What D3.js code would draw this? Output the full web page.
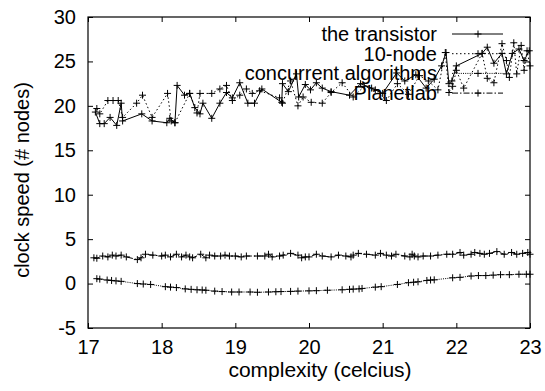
<!DOCTYPE html>
<html>
<head>
<meta charset="utf-8">
<script src="https://d3js.org/d3.v7.min.js"></script>
<style>
body {margin: 0; background: #fff;}
svg text {font-family: "Liberation Sans", Arial, sans-serif; font-size: 20px; fill: #000;}
</style>
</head>
<body>
<svg id="chart" width="545" height="391"></svg>
<script>
// series names, in legend order
var seriesNames = ["the transistor", "10-node", "concurrent algorithms", "Planetlab"];

// [x, y] points
var transistor = [[17.1,19.3],[17.16,18.0],[17.22,18.0],[17.3,18.7],[17.39,17.8],[17.45,20.3],[17.47,18.3],
  [17.73,19.1],[17.87,18.3],[18.07,18.1],[18.11,18.6],[18.18,18.1],[18.21,22.3],[18.31,21.2],[18.38,21.4],
  [18.45,19.8],[18.52,19.1],[18.56,20.3],[18.68,18.6],[18.79,20.3],[18.88,21.5],[18.96,20.9],[19.06,22.6],
  [19.17,20.3],[19.26,20.3],[19.36,21.9],[19.63,20.4],[19.64,22.5],[19.72,21.6],[19.83,23.6],[19.86,21.0],
  [19.95,22.4],[20.02,21.8],[20.1,22.6],[20.18,22.0],[20.3,21.6],[20.55,21.2],[20.7,22.5],[20.85,22.0],
  [21.0,21.4],[21.19,23.7],[21.3,22.8],[21.45,23.5],[21.59,22.0],[21.7,23.0],[21.8,24.5],[21.86,26.0],
  [21.9,22.5],[21.94,22.8],[22.0,24.5],[22.35,25.9],[22.42,26.6],[22.51,24.8],[22.62,25.9],[22.68,23.6],
  [22.76,25.9],[22.85,26.4],[22.92,25.1],[22.99,26.2]];

var tenNode = [[17.12,19.7],[17.16,19.1],[17.27,20.6],[17.34,20.6],[17.41,20.6],[17.47,18.7],[17.66,20.3],
  [17.74,21.2],[17.87,18.7],[18.08,21.4],[18.13,18.3],[18.18,18.1],[18.38,21.4],[18.48,19.2],[18.52,21.4],
  [18.68,21.4],[18.79,21.9],[18.88,22.3],[18.96,20.6],[19.06,21.2],[19.15,21.9],[19.23,21.4],[19.33,21.7],
  [19.6,20.9],[19.64,20.3],[19.75,22.8],[19.85,20.0],[19.92,21.0],[20.03,20.4],[20.18,20.3],[20.3,21.5],
  [20.45,22.6],[20.6,21.0],[20.75,22.2],[20.9,21.8],[21.05,20.6],[21.2,22.5],[21.35,21.3],[21.5,23.4],
  [21.62,22.8],[21.75,21.8],[21.85,26.0],[21.9,21.5],[21.95,22.2],[22.0,24.0],[22.1,22.0],[22.35,25.9],
  [22.42,23.1],[22.51,22.6],[22.62,27.0],[22.68,25.1],[22.72,23.2],[22.78,27.1],[22.82,23.6],[22.88,26.8],
  [22.92,24.0],[22.96,26.2],[23.0,24.5]];

var concurrent = [[17.12,0.55],[17.16,0.5],[17.26,0.4],[17.32,0.35],[17.38,0.3],[17.45,0.25],[17.67,0.0],
  [17.75,-0.05],[17.85,-0.1],[18.05,-0.35],[18.12,-0.4],[18.2,-0.45],[18.32,-0.6],[18.4,-0.65],[18.48,-0.7],
  [18.55,-0.72],[18.6,-0.75],[18.72,-0.85],[18.82,-0.9],[18.95,-0.95],[19.05,-0.95],[19.2,-0.95],[19.3,-0.98],
  [19.45,-0.95],[19.55,-0.92],[19.62,-0.9],[19.75,-0.88],[19.85,-0.85],[20.0,-0.82],[20.1,-0.8],[20.25,-0.75],
  [20.45,-0.7],[20.55,-0.65],[20.6,-0.62],[20.68,-0.6],[20.72,-0.55],[20.9,-0.4],[20.98,-0.35],[21.2,-0.1],
  [21.35,0.1],[21.42,0.15],[21.48,0.2],[21.6,0.35],[21.65,0.4],[21.7,0.42],[21.95,0.65],[22.05,0.7],
  [22.2,0.85],[22.3,0.9],[22.4,0.9],[22.5,0.95],[22.6,1.0],[22.72,1.0],[22.85,1.05],[22.95,1.05],[23.0,1.05]];

var planetlab = [[17.08,2.9],[17.12,2.85],[17.2,3.1],[17.27,3.0],[17.33,3.2],[17.38,3.1],[17.45,3.2],[17.52,3.0],
  [17.67,2.7],[17.72,2.9],[17.78,3.3],[17.88,3.2],[18.0,3.1],[18.05,3.2],[18.12,3.0],[18.2,3.3],[18.27,3.0],
  [18.33,3.2],[18.38,3.0],[18.42,2.9],[18.53,3.3],[18.6,2.9],[18.65,3.2],[18.72,3.1],[18.8,3.1],[18.86,3.2],
  [18.92,3.1],[19.0,3.1],[19.08,3.0],[19.15,3.1],[19.3,3.1],[19.4,3.1],[19.45,3.3],[19.5,3.0],[19.6,3.1],
  [19.65,3.2],[19.75,3.4],[19.85,3.2],[19.9,2.9],[19.95,3.0],[20.0,3.0],[20.1,3.3],[20.18,3.1],[20.3,3.0],
  [20.4,3.2],[20.5,3.1],[20.57,3.0],[20.6,3.2],[20.67,3.4],[20.78,3.3],[20.9,3.2],[20.97,3.4],[21.05,3.2],
  [21.12,3.1],[21.18,3.3],[21.3,3.1],[21.37,3.0],[21.4,3.3],[21.43,3.1],[21.48,3.0],[21.55,3.1],[21.65,3.1],
  [21.75,3.2],[21.87,3.3],[21.95,3.3],[22.05,3.5],[22.1,3.2],[22.2,3.3],[22.25,3.5],[22.32,3.4],[22.38,3.3],
  [22.45,3.4],[22.55,3.6],[22.65,3.3],[22.75,3.5],[22.82,3.3],[22.9,3.4],[22.97,3.5],[23.0,3.3]];

var xTicks = [17, 18, 19, 20, 21, 22, 23];
var yTicks = [-5, 0, 5, 10, 15, 20, 25, 30];

var allSeries = [transistor, tenNode, concurrent, planetlab];
var dashes = [null, "1.5,2.5", "1,1.2", "6,2,1.5,2"];

var svg = d3.select("#chart");
var plotLeft = 88, plotRight = 530, plotTop = 17, plotBottom = 328;

var x = d3.scaleLinear().domain([17, 23]).range([plotLeft, plotRight]);
var y = d3.scaleLinear().domain([-5, 30]).range([plotBottom, plotTop]);

// axes: ticks inside, mirrored on top and right
svg.append("g").attr("transform", "translate(" + plotLeft + ",0)")
  .call(d3.axisLeft(y).tickValues(yTicks).tickSize(-5).tickPadding(12).tickFormat(d => String(d)))
  .call(g => g.select(".domain").remove());
svg.append("g").attr("transform", "translate(" + plotRight + ",0)")
  .call(d3.axisRight(y).tickValues(yTicks).tickSize(-5).tickFormat(""))
  .call(g => g.select(".domain").remove());
svg.append("g").attr("transform", "translate(0," + plotBottom + ")")
  .call(d3.axisBottom(x).tickValues(xTicks).tickSize(-5).tickPadding(12).tickFormat(d => String(d)))
  .call(g => g.select(".domain").remove());
svg.append("g").attr("transform", "translate(0," + plotTop + ")")
  .call(d3.axisTop(x).tickValues(xTicks).tickSize(-5).tickFormat(""))
  .call(g => g.select(".domain").remove());
svg.selectAll(".tick text").style("font-size", "20px").attr("fill", "#000")
  .style("font-family", "'Liberation Sans', Arial, sans-serif");
svg.selectAll(".tick line").attr("stroke", "#000");

svg.append("rect").attr("x", plotLeft).attr("y", plotTop)
  .attr("width", plotRight - plotLeft).attr("height", plotBottom - plotTop)
  .attr("fill", "none").attr("stroke", "#000").attr("stroke-width", 1.2);

svg.append("text").attr("x", 320).attr("y", 377).style("font-size", "21px")
  .attr("text-anchor", "middle").text("complexity (celcius)");
svg.append("text").attr("transform", "translate(29,180) rotate(-90)")
  .attr("text-anchor", "middle").text("clock speed (# nodes)");

var line = d3.line().x(d => x(d[0])).y(d => y(d[1]));
var plus = "M-3.5,0H3.5M0,-3.5V3.5";

allSeries.forEach(function(data, i) {
  svg.append("path").datum(data).attr("d", line)
    .attr("fill", "none").attr("stroke", "#000").attr("stroke-width", 1)
    .attr("stroke-dasharray", dashes[i]);
  svg.append("g").selectAll("path").data(data).enter().append("path")
    .attr("transform", d => "translate(" + x(d[0]) + "," + y(d[1]) + ")")
    .attr("d", plus).attr("stroke", "#000").attr("stroke-width", 1);
});

// legend, top right inside the frame
var legend = svg.append("g");
seriesNames.forEach(function(name, i) {
  var ly = 34 + 19.7 * i;
  legend.append("text").attr("x", 437).attr("y", ly).attr("dy", "0.35em")
    .attr("text-anchor", "end").text(name);
  legend.append("line").attr("x1", 452).attr("x2", 503).attr("y1", ly).attr("y2", ly)
    .attr("stroke", "#000").attr("stroke-dasharray", dashes[i]);
  legend.append("path").attr("transform", "translate(478," + ly + ")")
    .attr("d", plus).attr("stroke", "#000");
});
</script>
</body>
</html>
